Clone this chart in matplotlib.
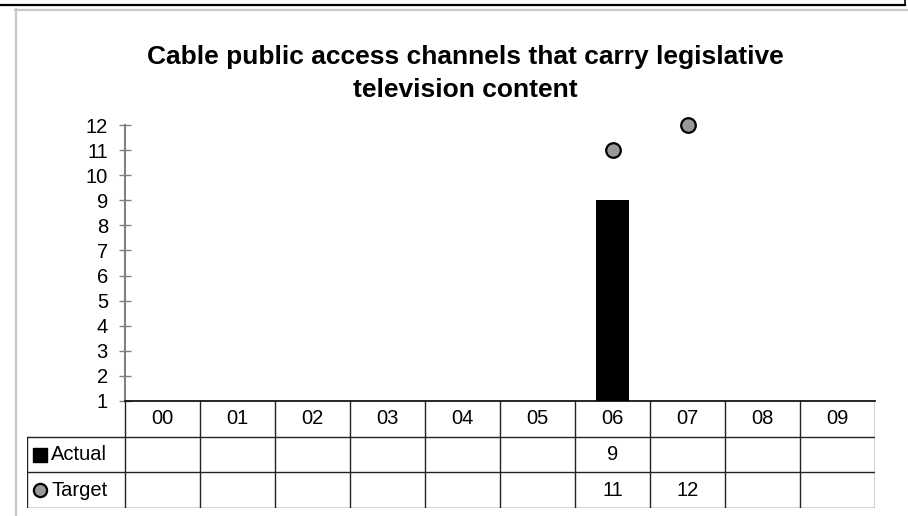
import numpy as np
import matplotlib
matplotlib.use("Agg")
import matplotlib.pyplot as plt
from matplotlib.lines import Line2D

plt.rcParams['font.family'] = ['Liberation Sans', 'DejaVu Sans']

title = "Cable public access channels that carry legislative\ntelevision content"
years = ["00", "01", "02", "03", "04", "05", "06", "07", "08", "09"]
actual = [np.nan, np.nan, np.nan, np.nan, np.nan, np.nan, 9, np.nan, np.nan, np.nan]
target = [np.nan, np.nan, np.nan, np.nan, np.nan, np.nan, 11, 12, np.nan, np.nan]
series_names = ["Actual", "Target"]
y_ticks = list(range(1, 13))

W, H = 908, 516
fig = plt.figure(figsize=(W / 100, H / 100), dpi=100)


def fx(px):
    return px / W


def fy(py):
    return 1 - py / H


# outer frame decorations
fig.add_artist(Line2D([fx(0), fx(905)], [fy(5), fy(5)], color='black', lw=1.6))
fig.add_artist(Line2D([fx(905), fx(905)], [fy(0), fy(5)], color='black', lw=1.2))
fig.add_artist(Line2D([fx(15), fx(908)], [fy(9.5), fy(9.5)], color='#c8c8c8', lw=1.6))
fig.add_artist(Line2D([fx(16), fx(16)], [fy(9), fy(516)], color='#c8c8c8', lw=1.6))

fig.text(fx(465), fy(73.5), title, ha='center', va='center', fontsize=19,
         fontweight='bold', linespacing=1.45)

# main chart area
ax = fig.add_axes([fx(125), fy(401), fx(750), fy(125) - fy(401)])
x = np.arange(len(years))
ax.bar(x, actual, width=0.43, color='black', zorder=2)
ax.plot(x, target, linestyle='none', marker='o', markersize=10.5,
        markerfacecolor='#999999', markeredgecolor='black', markeredgewidth=1.6,
        clip_on=False, zorder=3)
ax.set_xlim(-0.5, len(years) - 0.5)
ax.set_ylim(1, 12)
ax.set_yticks(y_ticks)
ax.set_yticklabels([str(v) for v in y_ticks], fontsize=14.5)
ax.tick_params(axis='y', direction='inout', length=8.6, width=1, color='#808080', pad=8)
ax.set_xticks([])
for s in ['top', 'right']:
    ax.spines[s].set_visible(False)
ax.spines['left'].set_color('#808080')
ax.spines['left'].set_linewidth(1.5)
ax.spines['bottom'].set_color('black')
ax.spines['bottom'].set_linewidth(1.2)
ax.patch.set_alpha(0)

# data table below the chart
label_w = 98 / 75
x_left = -0.5 - label_w
tab = fig.add_axes([fx(27), fy(508), fx(848), fy(401) - fy(508)])
tab.set_xlim(x_left, len(years) - 0.5)
tab.set_ylim(3, 0)
tab.axis('off')
lc = '#222222'
for b in np.arange(-0.5, len(years), 1.0):
    tab.plot([b, b], [0, 3], color=lc, lw=1)
tab.plot([x_left, x_left], [1, 3], color=lc, lw=1)
for r in [1, 2, 3]:
    tab.plot([x_left, len(years) - 0.5], [r, r], color=lc, lw=1)

for i, yr in enumerate(years):
    tab.text(i, 0.5, yr, ha='center', va='center', fontsize=14.5)
for row, vals in enumerate([actual, target], start=1):
    for i, v in enumerate(vals):
        if not np.isnan(v):
            tab.text(i, row + 0.5, f"{v:g}", ha='center', va='center', fontsize=14.5)

key_x = x_left + 13 / 75
tab.plot([key_x], [1.5], marker='s', markersize=10.5, color='black', linestyle='none')
tab.plot([key_x], [2.5], marker='o', markersize=9.5, markerfacecolor='#999999',
         markeredgecolor='black', markeredgewidth=1.6, linestyle='none')
for row, name in enumerate(series_names, start=1):
    tab.text(x_left + 24 / 75, row + 0.5, name, ha='left', va='center', fontsize=14.5)

fig.savefig("out.png", dpi=100)
